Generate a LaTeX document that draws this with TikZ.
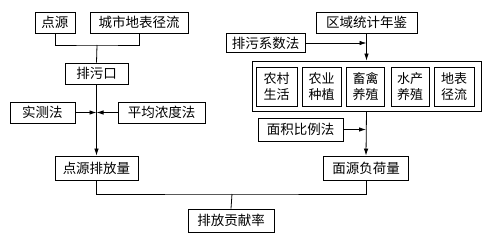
\documentclass[tikz,border=0pt]{standalone}
\usepackage{fontspec}
\newfontfamily\cjk{Noto Sans CJK SC}
\usepackage{tikz}
\usetikzlibrary{arrows.meta,calc,positioning}

\begin{document}
\begin{tikzpicture}[x=1pt,y=-1pt,
    box/.style={draw,line width=0.8pt,inner sep=0pt,minimum height=21pt,font=\cjk\fontsize{13.5}{16}\selectfont},
    sub/.style={box,minimum height=39pt,align=center,font=\cjk\fontsize{13}{16}\selectfont},
    ln/.style={line width=0.8pt},
    arr/.style={ln,-{Latex[length=7pt,width=4.5pt]}}]
  \useasboundingbox (0,0) rectangle (488,238);
  % point source side
  \node[box,minimum width=40pt] (dy) at (55,22.5) {点源};
  \node[box,minimum width=98pt] (csdb) at (139,22.5) {城市地表径流};
  \node[box,minimum width=63pt] (pwk) at (96.5,73.5) {排污口};
  \node[box,minimum width=65pt] (scf) at (42.5,112.5) {实测法};
  \node[box,minimum width=87pt] (pjnd) at (161.5,112.5) {平均浓度法};
  \node[box,minimum width=83pt,minimum height=24pt] (dypf) at (96.5,168) {点源排放量};
  % non-point source side
  \node[box,minimum width=101pt] (qytj) at (366.5,22.5) {区域统计年鉴};
  \node[box,minimum width=79pt,minimum height=19pt] (pwxs) at (265.5,43) {排污系数法};
  \node[draw,ln,minimum width=229pt,minimum height=50pt,inner sep=0pt] (all) at (366.5,86) {};
  \node[sub,minimum width=41pt] (ncsh) at (276.5,86.5) {农村\\生活};
  \node[sub,minimum width=39pt] (nyzz) at (321.5,86.5) {农业\\种植};
  \node[sub,minimum width=38pt] (xqyz) at (365.5,86.5) {畜禽\\养殖};
  \node[sub,minimum width=38pt] (scyz) at (410,86.5) {水产\\养殖};
  \node[sub,minimum width=40pt] (dbjl) at (454,86.5) {地表\\径流};
  \node[box,minimum width=85pt,minimum height=23pt] (mjbl) at (300.5,129.5) {面积比例法};
  \node[box,minimum width=85pt,minimum height=24pt] (myfh) at (366,168) {面源负荷量};
  \node[box,minimum width=86pt,minimum height=23pt] (pfgx) at (231,220.5) {排放贡献率};
  % connectors
  \coordinate (j1) at (97,45);
  \coordinate (j2) at (232,194);
  \draw[ln] (dy.south) |- (j1) -| (csdb.south);
  \draw[ln] (j1) -- (pwk.north);
  \draw[arr] (pwk.south) -- (dypf.north);
  \draw[arr] (scf.east) -- (scf.east -| pwk.south);
  \draw[arr] (pjnd.west) -- (pjnd.west -| pwk.south);
  \draw[arr] (qytj.south) -- (all.north);
  \draw[arr] (pwxs.east) -- (pwxs.east -| qytj.south);
  \draw[arr] (all.south) -- (myfh.north);
  \draw[arr] (mjbl.east) -- (mjbl.east -| myfh.north);
  \draw[ln] (dypf.south) |- (j2) -| (myfh.south);
  \draw[ln] (j2) -- (pfgx.north);
\end{tikzpicture}
\end{document}
